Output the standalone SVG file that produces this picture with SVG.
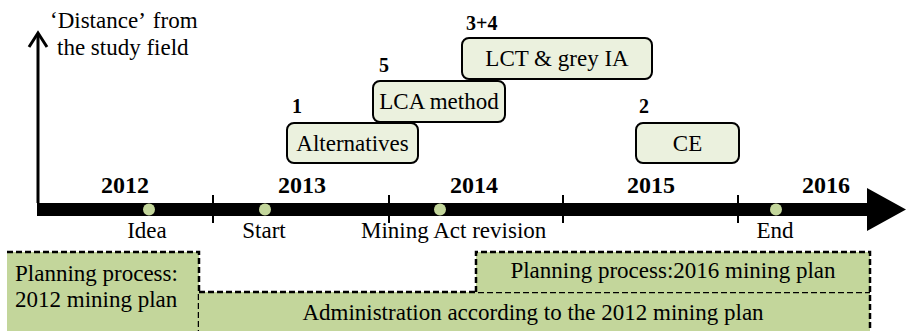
<svg xmlns="http://www.w3.org/2000/svg" width="906" height="331" viewBox="0 0 906 331">
  <style>
    text { font-family: "Liberation Serif", "DejaVu Serif", serif; fill: #000; }
    .lbl { font-size: 23px; }
    .yr { font-size: 24px; font-weight: bold; text-anchor: middle; }
    .num { font-size: 20px; font-weight: bold; }
    .mid { text-anchor: middle; }
    .study { fill: #ebf1de; stroke: #000; stroke-width: 2; }
    .phase { fill: #c3d69b; stroke: none; }
    .dash { fill: none; stroke: #000; stroke-width: 2.5; stroke-dasharray: 6 3; }
    .dot { fill: #c3d69b; }
    .tick { stroke: #000; stroke-width: 2; }
  </style>

  <!-- time axis and vertical "distance" axis -->
  <g id="axes">
    <polyline points="38,203 38,34" fill="none" stroke="#000" stroke-width="3"/>
    <polyline points="29,47 38,33 47,47" fill="none" stroke="#000" stroke-width="3" stroke-linejoin="miter"/>
    <rect x="37" y="203" width="831" height="13" fill="#000"/>
    <polygon points="867,188 906,209.5 867,231" fill="#000"/>
    <line class="tick" x1="213" y1="195" x2="213" y2="223"/>
    <line class="tick" x1="389" y1="195" x2="389" y2="223"/>
    <line class="tick" x1="563" y1="195" x2="563" y2="223"/>
    <line class="tick" x1="738" y1="195" x2="738" y2="223"/>
    <text class="lbl" x="50" y="28" word-spacing="3">‘Distance’ from</text>
    <text class="lbl" x="57" y="55">the study field</text>
  </g>

  <!-- year labels -->
  <g id="years">
    <text class="yr" x="125" y="193">2012</text>
    <text class="yr" x="302" y="193">2013</text>
    <text class="yr" x="474" y="193">2014</text>
    <text class="yr" x="651" y="193">2015</text>
    <text class="yr" x="826" y="193">2016</text>
  </g>

  <!-- milestones on the time axis -->
  <g id="milestone-idea">
    <circle class="dot" cx="149" cy="209.5" r="6"/>
    <text class="lbl mid" x="147" y="238">Idea</text>
  </g>
  <g id="milestone-start">
    <circle class="dot" cx="265" cy="209.5" r="6"/>
    <text class="lbl mid" x="264" y="238">Start</text>
  </g>
  <g id="milestone-act">
    <circle class="dot" cx="440" cy="209.5" r="6"/>
    <text class="lbl" x="361" y="238">Mining Act revision</text>
  </g>
  <g id="milestone-end">
    <circle class="dot" cx="776" cy="209.5" r="6"/>
    <text class="lbl mid" x="775" y="238">End</text>
  </g>

  <!-- studies -->
  <g id="study-1">
    <text class="num" x="292" y="113">1</text>
    <rect class="study" x="287" y="123" width="131" height="40" rx="7"/>
    <text class="lbl mid" x="352.5" y="151">Alternatives</text>
  </g>
  <g id="study-5">
    <text class="num" x="379" y="72">5</text>
    <rect class="study" x="373" y="81" width="132" height="41" rx="7"/>
    <text class="lbl mid" x="439" y="109">LCA method</text>
  </g>
  <g id="study-3-4">
    <text class="num" x="466" y="30">3+4</text>
    <rect class="study" x="462" y="38" width="190" height="41" rx="7"/>
    <text class="lbl mid" x="557" y="66">LCT &amp; grey IA</text>
  </g>
  <g id="study-2">
    <text class="num" x="639" y="113">2</text>
    <rect class="study" x="636" y="123" width="103" height="40" rx="7"/>
    <text class="lbl mid" x="687.5" y="151">CE</text>
  </g>

  <!-- planning and administration phases -->
  <g id="phase-plan-2012">
    <rect class="phase" x="7" y="252" width="192" height="79"/>
    <path class="dash" d="M7,252 H199 V331"/>
    <text class="lbl" x="15" y="281">Planning process:</text>
    <text class="lbl" x="15" y="307">2012 mining plan</text>
  </g>
  <g id="phase-admin">
    <rect class="phase" x="199" y="292" width="671" height="39"/>
    <path class="dash" d="M199,292 H870"/>
    <text class="lbl mid" x="533" y="320">Administration according to the 2012 mining plan</text>
  </g>
  <g id="phase-plan-2016">
    <rect class="phase" x="476" y="252" width="394" height="40"/>
    <path class="dash" d="M476,292 V252 H870 V331"/>
    <text class="lbl mid" x="673" y="278">Planning process:2016 mining plan</text>
  </g>
</svg>
